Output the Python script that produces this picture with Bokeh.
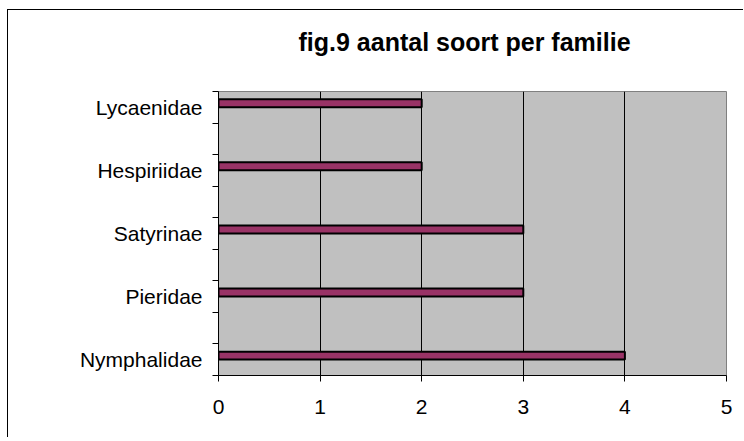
from bokeh.plotting import figure
from bokeh.models import Range1d, FixedTicker, Title
from bokeh.embed import file_html
from bokeh.resources import INLINE

title_text = "fig.9  aantal soort per familie"
categories = ["Nymphalidae", "Pieridae", "Satyrinae", "Hespiriidae", "Lycaenidae"]
values = [4, 3, 3, 2, 2]
x_ticks = [0, 1, 2, 3, 4, 5]
grid_ticks = [1, 2, 3, 4]

n_slots = 2 * len(categories) - 1
centers = [2 * i + 0.5 for i in range(len(categories))]
bar_y = [c + 0.13 for c in centers]

FONT = "Liberation Sans"

p = figure(width=736, height=428,
           x_range=Range1d(0, 5), y_range=Range1d(0, n_slots),
           output_backend="svg", toolbar_location=None,
           min_border_left=210, min_border_right=18,
           min_border_top=81, min_border_bottom=63)
# chart-area border: only its left and top edges fall inside the window
p.styles = {"margin-left": "8px", "margin-top": "10px",
            "box-shadow": "-1px -1px 0px 0px #000000"}

p.background_fill_color = "#C0C0C0"
p.border_fill_color = "white"
p.outline_line_color = "#808080"
p.outline_line_width = 1

p.hbar(y=bar_y, left=0, right=values, height=0.253,
       fill_color="#993366", line_color="black", line_width=2)

# grid
p.ygrid.visible = False
p.xgrid.ticker = FixedTicker(ticks=grid_ticks)
p.xgrid.grid_line_color = "black"
p.xgrid.grid_line_width = 1

# x axis
xa = p.xaxis[0]
xa.ticker = FixedTicker(ticks=x_ticks)
xa.axis_line_color = "black"
xa.major_tick_line_color = "black"
xa.major_tick_out = 6
xa.major_tick_in = 0
xa.minor_tick_out = 0
xa.minor_tick_in = 0
xa.major_label_text_font = FONT
xa.major_label_text_font_size = "21px"
xa.major_label_text_color = "black"
xa.major_label_standoff = 18

# y axis
ya = p.yaxis[0]
ya.ticker = FixedTicker(ticks=centers, minor_ticks=list(range(n_slots + 1)))
ya.major_label_overrides = {c: name for c, name in zip(centers, categories)}
ya.axis_line_color = "black"
ya.major_tick_out = 0
ya.major_tick_in = 0
ya.minor_tick_out = 6
ya.minor_tick_in = 0
ya.minor_tick_line_color = "black"
ya.major_label_text_font = FONT
ya.major_label_text_font_size = "21px"
ya.major_label_text_color = "black"
ya.major_label_standoff = 10

# spacer between title and plot area
p.add_layout(Title(text=" ", text_font_size="1px", standoff=33), "above")

# title
p.title.text = title_text
p.title.text_font = FONT
p.title.text_font_style = "bold"
p.title.text_font_size = "25px"
p.title.text_color = "black"
p.title.align = "left"
p.title.offset = 80
p.title.standoff = 0

open("out.html", "w").write(file_html(p, INLINE))
